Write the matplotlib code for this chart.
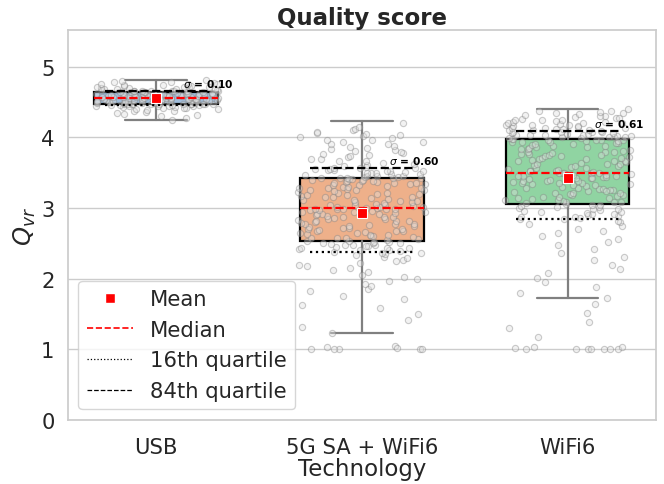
import matplotlib
matplotlib.use("Agg")
import matplotlib.pyplot as plt
from matplotlib.lines import Line2D
import numpy as np
import pandas as pd
import seaborn as sns

technologies = ["USB", "5G SA + WiFi6", "WiFi6"]

# per-session quality scores
q_usb = [4.25, 4.28, 4.30, 4.32, 4.33, 4.35, 4.36, 4.37, 4.38, 4.39, 4.40, 4.40,
         4.41, 4.42, 4.42, 4.43, 4.43, 4.44, 4.44, 4.45, 4.45, 4.45, 4.46, 4.46,
         4.46, 4.46, 4.47, 4.47, 4.47, 4.47, 4.47, 4.48, 4.48, 4.48, 4.48, 4.48,
         4.48, 4.48, 4.49, 4.49, 4.49, 4.49, 4.49, 4.50, 4.50, 4.50, 4.50, 4.50,
         4.51, 4.51, 4.51, 4.51, 4.51, 4.52, 4.52, 4.52, 4.52, 4.52, 4.53, 4.53,
         4.53, 4.53, 4.53, 4.54, 4.54, 4.54, 4.54, 4.54, 4.55, 4.55, 4.55, 4.55,
         4.55, 4.56, 4.56, 4.56, 4.56, 4.56, 4.57, 4.57, 4.57, 4.57, 4.57, 4.58,
         4.58, 4.58, 4.58, 4.58, 4.59, 4.59, 4.59, 4.59, 4.59, 4.60, 4.60, 4.60,
         4.60, 4.60, 4.61, 4.61, 4.61, 4.61, 4.61, 4.62, 4.62, 4.62, 4.62, 4.62,
         4.63, 4.63, 4.63, 4.63, 4.63, 4.64, 4.64, 4.64, 4.64, 4.64, 4.65, 4.65,
         4.65, 4.65, 4.65, 4.66, 4.66, 4.66, 4.67, 4.67, 4.68, 4.68, 4.69, 4.69,
         4.70, 4.70, 4.71, 4.71, 4.72, 4.72, 4.73, 4.73, 4.74, 4.74, 4.75, 4.75,
         4.76, 4.77, 4.78, 4.79, 4.80, 4.81]

q_5g = [1.00, 1.00, 1.01, 1.00, 1.03, 1.00, 1.05, 1.02,
        1.23, 1.31, 1.42, 1.50, 1.58, 1.63, 1.71, 1.76, 1.82, 1.85, 1.90, 1.93,
        1.97, 1.99, 2.02, 2.05, 2.09, 2.12, 2.15, 2.18, 2.20, 2.22, 2.25, 2.27,
        2.29, 2.31, 2.33, 2.35, 2.36, 2.37, 2.38, 2.39, 2.40, 2.41, 2.42, 2.43,
        2.43, 2.44, 2.45, 2.46, 2.46, 2.47, 2.48, 2.48, 2.49, 2.50, 2.50, 2.51,
        2.52, 2.52, 2.53, 2.53, 2.55, 2.56, 2.57, 2.58, 2.58, 2.59, 2.60, 2.61,
        2.62, 2.62, 2.63, 2.64, 2.65, 2.66, 2.67, 2.67, 2.68, 2.69, 2.70, 2.71,
        2.72, 2.72, 2.73, 2.74, 2.75, 2.76, 2.77, 2.77, 2.78, 2.79, 2.80, 2.81,
        2.82, 2.82, 2.83, 2.84, 2.85, 2.86, 2.87, 2.87, 2.88, 2.89, 2.90, 2.91,
        2.92, 2.92, 2.93, 2.94, 2.95, 2.95, 2.96, 2.97, 2.97, 2.98, 2.98, 2.99,
        2.99, 2.99, 3.00, 3.00, 3.01, 3.01, 3.02, 3.03, 3.04, 3.05, 3.05, 3.06,
        3.07, 3.08, 3.09, 3.10, 3.10, 3.11, 3.12, 3.13, 3.14, 3.15, 3.15, 3.16,
        3.17, 3.18, 3.19, 3.20, 3.20, 3.21, 3.22, 3.23, 3.24, 3.25, 3.25, 3.26,
        3.27, 3.28, 3.29, 3.30, 3.30, 3.31, 3.32, 3.33, 3.34, 3.34, 3.35, 3.36,
        3.37, 3.37, 3.38, 3.39, 3.39, 3.40, 3.40, 3.41, 3.41, 3.42, 3.42, 3.42,
        3.43, 3.43, 3.36, 3.28, 3.44, 3.44, 3.45, 3.46, 3.46, 3.47, 3.48, 3.48,
        3.49, 3.50, 3.50, 3.51, 3.52, 3.52, 3.53, 3.54, 3.54, 3.55, 3.55, 3.56,
        3.56, 3.57, 3.58, 3.60, 3.61, 3.63, 3.64, 3.66, 3.67, 3.69, 3.70, 3.72,
        3.73, 3.75, 3.76, 3.78, 3.79, 3.81, 3.82, 3.84, 3.85, 3.87, 3.88, 3.90,
        3.91, 3.93, 3.94, 3.96, 3.97, 3.99, 4.00, 4.02, 4.03, 4.05, 4.06, 4.08,
        4.10, 4.12, 4.15, 4.20]

q_wifi = [1.00, 1.00, 1.01, 1.00, 1.02, 1.00, 1.03, 1.01, 1.00, 1.04,
          1.18, 1.30, 1.38, 1.52, 1.64,
          1.73, 1.80, 1.88, 1.95, 2.01, 2.08, 2.14, 2.20, 2.26, 2.31, 2.37, 2.42,
          2.47, 2.52, 2.56, 2.60, 2.64, 2.68, 2.71, 2.74, 2.77, 2.80, 2.82, 2.84,
          2.85, 2.86, 2.87, 2.88, 2.89, 2.90, 2.91, 2.92, 2.93, 2.94, 2.95, 2.96,
          2.97, 2.98, 2.99, 3.00, 3.01, 3.02, 3.03, 3.04, 3.05, 3.06,
          3.07, 3.08, 3.08, 3.09, 3.10, 3.11, 3.12, 3.13, 3.14, 3.14, 3.15, 3.16,
          3.17, 3.18, 3.19, 3.20, 3.21, 3.21, 3.22, 3.23, 3.24, 3.25, 3.26, 3.27,
          3.27, 3.28, 3.29, 3.30, 3.31, 3.32, 3.33, 3.34, 3.34, 3.35, 3.36, 3.37,
          3.38, 3.38, 3.39, 3.40, 3.41, 3.42, 3.42, 3.43, 3.44, 3.44, 3.45, 3.46,
          3.46, 3.47, 3.47, 3.48, 3.48, 3.49, 3.49, 3.49, 3.50, 3.50, 3.35, 3.24,
          3.51, 3.52, 3.53, 3.53, 3.54, 3.55, 3.56, 3.57, 3.58, 3.59, 3.60, 3.61,
          3.62, 3.62, 3.63, 3.64, 3.65, 3.66, 3.67, 3.68, 3.69, 3.70, 3.71, 3.71,
          3.72, 3.73, 3.74, 3.75, 3.76, 3.77, 3.78, 3.79, 3.80, 3.80, 3.81, 3.82,
          3.83, 3.84, 3.85, 3.86, 3.87, 3.88, 3.88, 3.89, 3.90, 3.91, 3.92, 3.92,
          3.93, 3.94, 3.94, 3.95, 3.95, 3.96, 3.96, 3.97, 3.97, 3.98, 3.75, 3.66,
          3.98, 3.99, 3.99, 4.00, 4.00, 4.01, 4.01, 4.02, 4.02, 4.03, 4.03, 4.04,
          4.04, 4.05, 4.05, 4.06, 4.06, 4.07, 4.07, 4.08, 4.08, 4.09,
          4.10, 4.10, 4.11, 4.12, 4.12, 4.13, 4.14, 4.14, 4.15, 4.16, 4.16, 4.17,
          4.18, 4.18, 4.19, 4.20, 4.20, 4.21, 4.22, 4.22, 4.23, 4.24, 4.25, 4.25,
          4.26, 4.27, 4.28, 4.29, 4.30, 4.31, 4.32, 4.33, 4.34, 4.35, 4.36, 4.37,
          4.38, 4.40]

# summary statistics per technology
whis_lo = [4.25, 1.23, 1.73]
q1 = [4.48, 2.54, 3.06]
median = [4.56, 3.00, 3.50]
q3 = [4.64, 3.43, 3.98]
whis_hi = [4.81, 4.23, 4.40]
mean = [4.56, 2.93, 3.42]
p16 = [4.46, 2.38, 2.85]
p84 = [4.66, 3.57, 4.09]
sigma = [0.10, 0.60, 0.61]

box_colors = ["#a0bddb", "#eeb08a", "#90d4a2"]

sns.set_theme(style="whitegrid")

df = pd.DataFrame({
    "tech": ["USB"] * len(q_usb) + ["5G SA + WiFi6"] * len(q_5g) + ["WiFi6"] * len(q_wifi),
    "q": q_usb + q_5g + q_wifi,
})

fig, ax = plt.subplots(figsize=(6.64, 4.85), dpi=100)
fig.subplots_adjust(left=0.102, right=0.988, bottom=0.132, top=0.936)

pos = np.arange(len(technologies))
stats = []
for i, t in enumerate(technologies):
    stats.append(dict(label=t, whislo=whis_lo[i], q1=q1[i], med=median[i],
                      q3=q3[i], whishi=whis_hi[i], mean=mean[i], fliers=[]))

bp = ax.bxp(stats, positions=pos, widths=0.6, patch_artist=True,
            showfliers=False,
            boxprops=dict(edgecolor="black", linewidth=1.6),
            whiskerprops=dict(color="#808080", linewidth=1.6),
            capprops=dict(color="#808080", linewidth=1.6),
            medianprops=dict(color="red", linestyle="--", linewidth=1.6))
for patch, c in zip(bp["boxes"], box_colors):
    patch.set_facecolor(c)
    patch.set_zorder(2)
for line in bp["medians"]:
    line.set_zorder(5)

sns.stripplot(data=df, x="tech", y="q", order=technologies, jitter=0.31,
              color="#e0e0e0", edgecolor="#7f7f7f", linewidth=0.8,
              alpha=0.4, size=4.5, ax=ax, zorder=3)

ax.hlines(p16, pos - 0.25, pos + 0.25, colors="black", linestyles=":",
          linewidth=1.6, zorder=5)
ax.hlines(p84, pos - 0.25, pos + 0.25, colors="black", linestyles="--",
          linewidth=1.6, zorder=5)
ax.plot(pos, mean, linestyle="none", marker="s", markersize=7,
        markerfacecolor="red", markeredgecolor="white", markeredgewidth=0.8,
        zorder=6)

for i in range(len(technologies)):
    ax.text(pos[i] + 0.13, p84[i] + 0.03, r"$\sigma$ = %.2f" % sigma[i],
            fontsize=7.7, fontweight="bold", color="black",
            ha="left", va="bottom", zorder=7)

ax.set_xlim(-0.43, 2.43)
ax.set_ylim(0, 5.52)
ax.set_yticks([0, 1, 2, 3, 4, 5])
ax.xaxis.grid(False)
ax.tick_params(labelsize=15.2)
ax.tick_params(axis="x", pad=6)
ax.set_xticks(pos)
ax.set_xticklabels(technologies)
ax.set_xlabel("Technology", fontsize=16.5, labelpad=0)
ax.set_ylabel(r"$Q_{vr}$", fontsize=17.5, labelpad=2)
ax.set_title("Quality score", fontsize=16.5, fontweight="bold", pad=4)

handles = [
    Line2D([], [], linestyle="none", marker="s", markersize=7,
           markerfacecolor="red", markeredgecolor="white"),
    Line2D([], [], color="red", linestyle="--", linewidth=1.2),
    Line2D([], [], color="black", linestyle=":", linewidth=0.9),
    Line2D([], [], color="black", linestyle="--", linewidth=0.9),
]
ax.legend(handles, ["Mean", "Median", "16th quartile", "84th quartile"],
          loc="lower left", fontsize=15.2, handlelength=2.2)

fig.savefig("out.png")
